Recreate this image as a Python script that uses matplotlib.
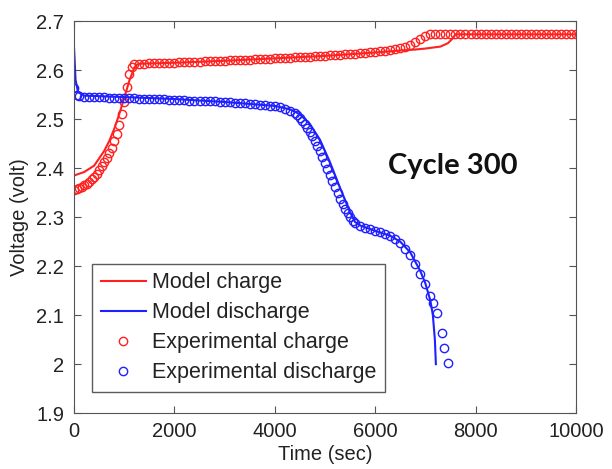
# curvas de carga / descarga, ciclo 300
import matplotlib
matplotlib.use("Agg")
import matplotlib.pyplot as plt

# modelo - carga
t_mod_carga = [0, 200, 400, 600, 700, 800, 900, 1000, 1100, 1200, 1250, 1300,
               2000, 3000, 4000, 5000, 6000, 6500, 6800, 7000, 7300, 7450, 7550, 7600, 10000]
v_mod_carga = [2.385, 2.392, 2.405, 2.435, 2.455, 2.480, 2.510, 2.543, 2.578, 2.605, 2.611, 2.613,
               2.615, 2.619, 2.624, 2.629, 2.636, 2.640, 2.642, 2.644, 2.648, 2.655, 2.665, 2.673, 2.673]

# modelo - descarga
t_mod_desc = [0, 30, 80, 200, 1000, 2000, 3000, 4000, 4300, 4500, 4700, 4900, 5100, 5300, 5500,
              5600, 5700, 6000, 6300, 6500, 6700, 6900, 7000, 7100, 7150, 7190, 7210]
v_mod_desc = [2.645, 2.580, 2.555, 2.548, 2.545, 2.541, 2.535, 2.527, 2.520, 2.510, 2.490, 2.458, 2.412,
              2.360, 2.310, 2.290, 2.283, 2.272, 2.262, 2.250, 2.228, 2.190, 2.165, 2.130, 2.100, 2.050, 2.000]

# experimental - carga
t_exp_carga = [0, 50, 100, 150, 200, 250, 300, 350, 400, 450, 500, 550, 600, 650, 700, 750, 800,
               850, 900, 950, 1000, 1050, 1100, 1150, 1200,
               1300, 1400, 1500, 1600, 1700, 1800, 1900, 2000, 2100, 2200, 2300, 2400, 2500, 2600,
               2700, 2800, 2900, 3000, 3100, 3200, 3300, 3400, 3500, 3600, 3700, 3800, 3900, 4000,
               4100, 4200, 4300, 4400, 4500, 4600, 4700, 4800, 4900, 5000, 5100, 5200, 5300, 5400,
               5500, 5600, 5700, 5800, 5900, 6000, 6100, 6200, 6300, 6400, 6500, 6600, 6700, 6800,
               6900, 7000,
               7100, 7200, 7300, 7400, 7500, 7600, 7700, 7800, 7900, 8000,
               8100, 8200, 8300, 8400, 8500, 8600, 8700, 8800, 8900, 9000,
               9100, 9200, 9300, 9400, 9500, 9600, 9700, 9800, 9900, 10000]
v_exp_carga = [2.355, 2.357, 2.360, 2.362, 2.365, 2.368, 2.372, 2.377, 2.382, 2.389, 2.396, 2.404,
               2.412, 2.421, 2.430, 2.442, 2.455, 2.470, 2.488, 2.510, 2.535, 2.565, 2.592, 2.607, 2.612,
               2.613, 2.613, 2.614, 2.614, 2.614, 2.615, 2.615, 2.615, 2.616, 2.616, 2.616, 2.617, 2.617,
               2.618, 2.618, 2.618, 2.619, 2.619, 2.620, 2.620, 2.620, 2.621, 2.621, 2.622, 2.622, 2.623,
               2.623, 2.624, 2.624, 2.625, 2.625, 2.626, 2.626, 2.627, 2.627, 2.628, 2.628, 2.629, 2.630,
               2.630, 2.631, 2.632, 2.632, 2.633, 2.634, 2.635, 2.636, 2.637, 2.638, 2.639, 2.641, 2.643,
               2.645, 2.648, 2.652, 2.657, 2.664, 2.670,
               2.673, 2.673, 2.673, 2.673, 2.673, 2.673, 2.673, 2.673, 2.673, 2.673,
               2.673, 2.673, 2.673, 2.673, 2.673, 2.673, 2.673, 2.673, 2.673, 2.673,
               2.673, 2.673, 2.673, 2.673, 2.673, 2.673, 2.673, 2.673, 2.673, 2.673]

# experimental - descarga
t_exp_desc = [0, 50, 100, 200, 300, 400, 500, 600, 700, 800, 900, 1000, 1100, 1200, 1300, 1400,
              1500, 1600, 1700, 1800, 1900, 2000, 2100, 2200, 2300, 2400, 2500, 2600, 2700, 2800,
              2900, 3000, 3100, 3200, 3300, 3400, 3500, 3600, 3700, 3800, 3900, 4000, 4100, 4200,
              4300, 4400, 4450, 4500, 4550, 4600, 4650, 4700, 4750, 4800, 4850, 4900, 4950, 5000,
              5050, 5100, 5150, 5200, 5250, 5300, 5350, 5400, 5450, 5500, 5550, 5600, 5700, 5800,
              5900, 6000, 6100, 6200, 6300, 6400, 6500, 6600, 6700, 6800, 6900, 7000, 7100, 7150,
              7230, 7330, 7380, 7450]
v_exp_desc = [2.563, 2.550, 2.547, 2.546, 2.546, 2.545, 2.545, 2.545, 2.544, 2.544, 2.544, 2.543,
              2.543, 2.543, 2.542, 2.542, 2.542, 2.541, 2.541, 2.541, 2.540, 2.540, 2.539, 2.539,
              2.538, 2.538, 2.537, 2.537, 2.536, 2.536, 2.535, 2.534, 2.534, 2.533, 2.532, 2.532,
              2.531, 2.530, 2.529, 2.528, 2.527, 2.526, 2.524, 2.521, 2.517, 2.512, 2.508, 2.503,
              2.497, 2.490, 2.482, 2.474, 2.465, 2.455, 2.445, 2.434, 2.422, 2.410, 2.398, 2.386,
              2.374, 2.362, 2.350, 2.338, 2.327, 2.317, 2.308, 2.300, 2.293, 2.288, 2.282, 2.278,
              2.275, 2.272, 2.270, 2.266, 2.261, 2.255, 2.248, 2.236, 2.222, 2.205, 2.185, 2.163,
              2.140, 2.125, 2.104, 2.063, 2.033, 2.002]

x_ticks = [0, 2000, 4000, 6000, 8000, 10000]
y_ticks = [1.9, 2.0, 2.1, 2.2, 2.3, 2.4, 2.5, 2.6, 2.7]
y_rotulos = ["1.9", "2", "2.1", "2.2", "2.3", "2.4", "2.5", "2.6", "2.7"]

plt.rcParams["font.family"] = ["Liberation Sans", "DejaVu Sans"]

fig = plt.figure(figsize=(6.12, 4.69), dpi=100)
ax = fig.add_axes([0.121, 0.119, 0.820, 0.836])

vermelho = "#ff2020"
azul = "#2020ff"

ax.plot(t_mod_carga, v_mod_carga, color=vermelho, lw=1.5, label="Model charge")
ax.plot(t_mod_desc, v_mod_desc, color=azul, lw=1.5, label="Model discharge")
ax.plot(t_exp_carga, v_exp_carga, "o", mfc="none", mec=vermelho, ms=6, mew=1.0,
        label="Experimental charge")
ax.plot(t_exp_desc, v_exp_desc, "o", mfc="none", mec=azul, ms=6, mew=1.0,
        label="Experimental discharge")

ax.set_xlim(0, 10000)
ax.set_ylim(1.9, 2.7)
ax.set_xticks(x_ticks)
ax.set_xticklabels([str(x) for x in x_ticks])
ax.set_yticks(y_ticks)
ax.set_yticklabels(y_rotulos)
ax.tick_params(direction="in", top=True, right=True, labelsize=14.5, length=5,
               color="#555555", labelcolor="#222222")
ax.tick_params(axis="x", pad=6)
ax.tick_params(axis="y", pad=7)
for s in ax.spines.values():
    s.set_color("#555555")

ax.set_xlabel("Time (sec)", fontsize=14.5, labelpad=3, color="#222222")
ax.set_ylabel("Voltage (volt)", fontsize=14.5, labelpad=5, color="#222222")

ax.text(7550, 2.404, "Cycle 300", fontsize=21, fontweight="bold", family="Lato",
        ha="center", va="center", color="#111111")

leg = ax.legend(loc="lower left", bbox_to_anchor=(0.036, 0.054), borderaxespad=0,
                fontsize=15.5, frameon=True, fancybox=False, edgecolor="#333333",
                handlelength=2.1, borderpad=0.4, labelspacing=0.42, handletextpad=0.3)
leg.get_frame().set_linewidth(1.0)
for txt in leg.get_texts():
    txt.set_color("#222222")

plt.savefig("out.png", dpi=100)
